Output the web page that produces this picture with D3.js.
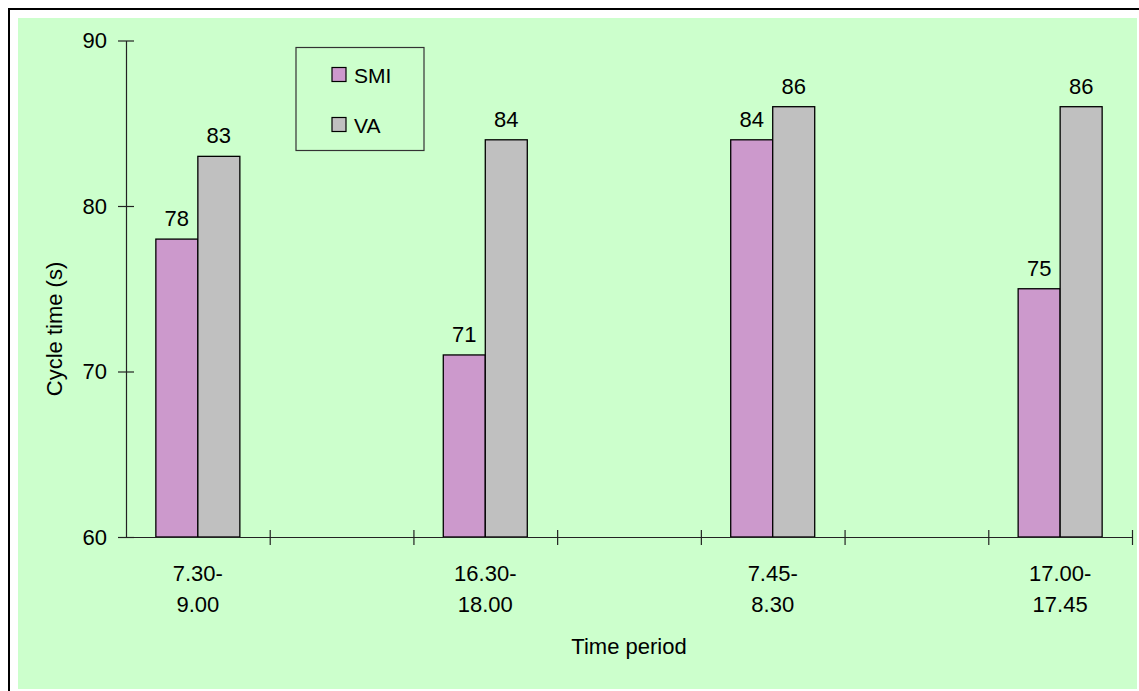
<!DOCTYPE html>
<html>
<head>
<meta charset="utf-8">
<script src="https://cdn.jsdelivr.net/npm/d3@7"></script>
<style>
  html, body { margin: 0; padding: 0; background: #fff; }
  svg { display: block; }
  text { font-family: "Liberation Sans", Arial, sans-serif; fill: #000; }
</style>
</head>
<body>
<svg id="chart" width="1139" height="691"></svg>
<script>
// Time periods (blank slots keep the spacing between groups)
const periods = ["7.30-9.00", "", "16.30-18.00", "", "7.45-8.30", "", "17.00-17.45"];
const smiValues = [78, null, 71, null, 84, null, 75];
const vaValues  = [83, null, 84, null, 86, null, 86];
const seriesNames = ["SMI", "VA"];
const seriesColors = ["#CC99CC", "#C0C0C0"];
const yTicks = [60, 70, 80, 90];

const svg = d3.select("#chart");
const W = 1139, H = 691;

// frame and background
svg.append("rect").attr("x", 18).attr("y", 18).attr("width", 1119).attr("height", 671)
  .attr("fill", "#CCFFCC");
svg.append("path").attr("d", `M9,${H + 5} V9 H${W + 5}`)
  .attr("fill", "none").attr("stroke", "#000").attr("stroke-width", 2);

const plot = { left: 126, right: 1132, top: 40.5, bottom: 537 };

const x = d3.scaleBand().domain(d3.range(periods.length))
  .range([plot.left, plot.right]).padding(0);
const xEdges = d3.scaleLinear().domain([0, periods.length]).range([plot.left, plot.right]);
const y = d3.scaleLinear().domain([60, 90]).range([plot.bottom, plot.top]);

const groupWidth = 84;
const xs = d3.scaleBand().domain(seriesNames).range([-groupWidth / 2, groupWidth / 2]).padding(0);

const rows = periods.map((p, i) => ({ i, p, vals: [smiValues[i], vaValues[i]] }));

// bars
const g = svg.append("g");
rows.forEach(r => {
  r.vals.forEach((v, k) => {
    if (v == null) return;
    const cx = x(r.i) + x.bandwidth() / 2;
    const bx = cx + xs(seriesNames[k]);
    g.append("rect")
      .attr("x", bx).attr("y", y(v))
      .attr("width", xs.bandwidth()).attr("height", y(60) - y(v))
      .attr("fill", seriesColors[k]).attr("stroke", "#000").attr("stroke-width", 1.3);
    g.append("text")
      .attr("x", bx + xs.bandwidth() / 2).attr("y", y(v) - 13)
      .attr("text-anchor", "middle").attr("font-size", 22)
      .text(v);
  });
});

// y axis
const yAxis = svg.append("g").attr("transform", `translate(${plot.left},0)`)
  .call(d3.axisLeft(y).tickValues(yTicks).tickSize(8).tickPadding(11).tickSizeOuter(0));
yAxis.select(".domain").attr("stroke", "#222").attr("stroke-width", 1.2);
yAxis.selectAll(".tick line").attr("x1", 8).attr("stroke", "#222").attr("stroke-width", 1.2);
yAxis.selectAll(".tick text").attr("font-size", 22).attr("font-family", "Liberation Sans, Arial, sans-serif");

// x axis with ticks at the slot boundaries
const xAxis = svg.append("g").attr("transform", `translate(0,${plot.bottom})`)
  .call(d3.axisBottom(xEdges).tickValues(d3.range(periods.length + 1)).tickFormat("").tickSize(8).tickSizeOuter(0));
xAxis.select(".domain").attr("stroke", "#222").attr("stroke-width", 1.2)
  .attr("d", `M${plot.left - 8},0.5H${plot.right}`);
xAxis.selectAll(".tick line").attr("y1", -7).attr("stroke", "#222").attr("stroke-width", 1.2)
  .filter(d => d === 0).remove();

// category labels on two lines
rows.forEach(r => {
  if (!r.p) return;
  const cut = r.p.indexOf("-") + 1;
  const t = svg.append("text")
    .attr("x", x(r.i) + x.bandwidth() / 2).attr("y", 581)
    .attr("text-anchor", "middle").attr("font-size", 22);
  t.append("tspan").attr("x", x(r.i) + x.bandwidth() / 2).attr("dy", 0).text(r.p.slice(0, cut));
  t.append("tspan").attr("x", x(r.i) + x.bandwidth() / 2).attr("dy", 31).text(r.p.slice(cut));
});

// axis titles
svg.append("text").attr("x", (plot.left + plot.right) / 2).attr("y", 654)
  .attr("text-anchor", "middle").attr("font-size", 22).text("Time period");
svg.append("text").attr("transform", "translate(62,329) rotate(-90)")
  .attr("text-anchor", "middle").attr("font-size", 22).text("Cycle time (s)");

// legend
const lg = svg.append("g");
lg.append("rect").attr("x", 296).attr("y", 47.5).attr("width", 128).attr("height", 103)
  .attr("fill", "none").attr("stroke", "#333").attr("stroke-width", 1.2);
seriesNames.forEach((name, k) => {
  const yy = 67.5 + k * 50;
  lg.append("rect").attr("x", 332).attr("y", yy).attr("width", 14).attr("height", 14)
    .attr("fill", seriesColors[k]).attr("stroke", "#000").attr("stroke-width", 1.2);
  lg.append("text").attr("x", 354).attr("y", yy + 15.5).attr("font-size", 21).text(name);
});
</script>
</body>
</html>
